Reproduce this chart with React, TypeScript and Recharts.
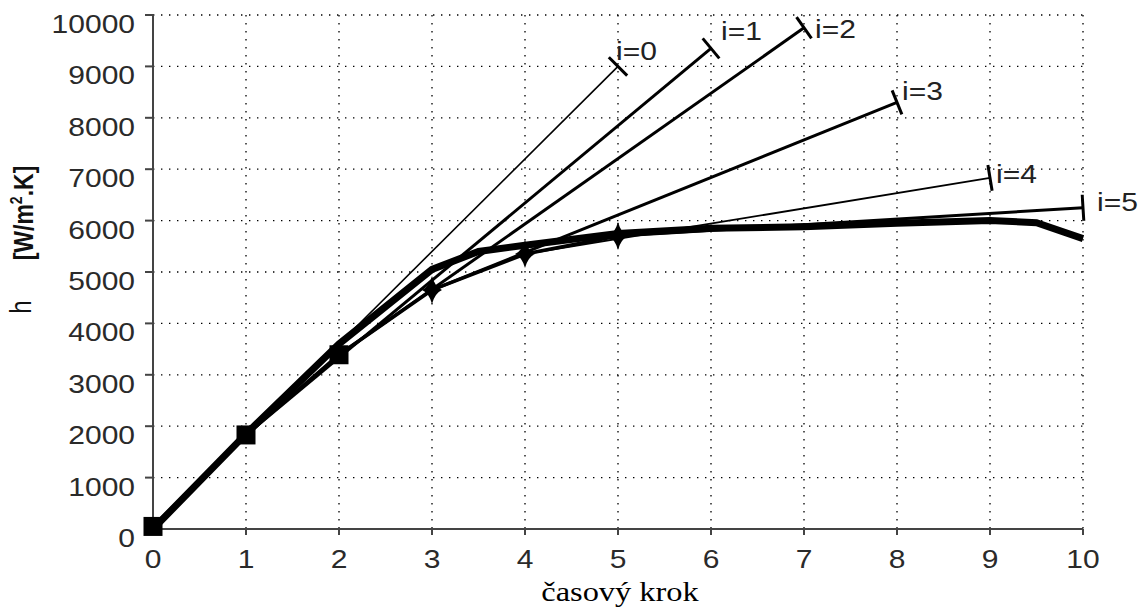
import React from "react";
import { LineChart, Line, XAxis, YAxis, CartesianGrid } from "recharts";

// time steps and h ticks
const steps = [0, 1, 2, 3, 4, 5, 6, 7, 8, 9, 10];
const hTicks = [0, 1000, 2000, 3000, 4000, 5000, 6000, 7000, 8000, 9000, 10000];

// h with markers, steps 0..5
const measuredH = [50, 1830, 3390, 4650, 5350, 5700];

// converged (bold) curve
const finalSteps = [0, 1, 2, 3, 3.5, 4, 5, 6, 7, 8, 9, 9.5, 10];
const finalH = [0, 1850, 3600, 5050, 5400, 5520, 5750, 5850, 5880, 5950, 6000, 5960, 5650];

// predictions i=0..5, each from step i to step i+5
const predNames = ["i=0", "i=1", "i=2", "i=3", "i=4", "i=5"];
const predStart = [0, 1830, 3390, 4650, 5350, 5700];
const predEnd = [9000, 9350, 9750, 8300, 6830, 6250];
const HORIZON = 5;

const W = 1138;
const H = 607;
const MARGIN = { top: 15, right: 55, left: 0, bottom: 0 };
const Y_AXIS_W = 153;
const X_AXIS_H = 78;
const PLOT_W = W - MARGIN.right - Y_AXIS_W;
const PLOT_H = H - MARGIN.top - X_AXIS_H;

const SANS = '"Liberation Sans", Arial, sans-serif';
const SERIF = '"Liberation Serif", "Times New Roman", serif';
const STRETCH = 1.2; // the source text is a bit wide
const AXIS = "#444";

const PRED_WIDTH = [1.6, 3, 3, 3, 1.8, 3];
const LABEL_DX = [-2, 10, 11, 5, 6, 14];
const LABEL_DY = [-6, -8, 10, -2, 5, 3];

const measuredData = measuredH.map((h, i) => ({ x: steps[i], h }));
const finalData = finalSteps.map((x, i) => ({ x, h: finalH[i] }));
const predData = predNames.map((_, i) => [
  { x: steps[i], h: predStart[i] },
  { x: steps[i] + HORIZON, h: predEnd[i] },
]);

const YTick = ({ x, y, payload }: any) => (
  <g transform={`translate(${x},${y + 18}) scale(${STRETCH},1)`}>
    <text textAnchor="end" fontFamily={SANS} fontSize={25} fill="#2a2a2a">
      {payload.value}
    </text>
  </g>
);

const XTick = ({ x, y, payload }: any) => (
  <g transform={`translate(${x},${y + 31}) scale(${STRETCH},1)`}>
    <text textAnchor="middle" fontFamily={SANS} fontSize={25} fill="#2a2a2a">
      {payload.value}
    </text>
  </g>
);

const YTitle = () => (
  <g>
    <g transform={`translate(33,213) scale(${STRETCH},1) rotate(-90)`}>
      <text textAnchor="middle" fontFamily={SANS} fontSize={23} fontWeight="bold" fill="#111">
        [W/m<tspan fontSize={14} dy={-9}>2</tspan>
        <tspan dy={9}>.K]</tspan>
      </text>
    </g>
    <g transform={`translate(31,307) scale(${STRETCH},1) rotate(-90)`}>
      <text textAnchor="middle" fontFamily={SANS} fontSize={24} fill="#111">
        h
      </text>
    </g>
  </g>
);

const XTitle = () => (
  <g transform={`translate(620,601) scale(${STRETCH},1)`}>
    <text textAnchor="middle" fontFamily={SERIF} fontSize={27} fill="#000">
      časový krok
    </text>
  </g>
);

const makeEndCap = (i: number) => (props: any) => {
  const { cx, cy, index } = props;
  if (index !== 1) return <g key={`p${i}-${index}`} />;
  // perpendicular to the line, in pixels
  const dx = (HORIZON / 10) * PLOT_W;
  const dy = -((predEnd[i] - predStart[i]) / 10000) * PLOT_H;
  const len = Math.hypot(dx, dy);
  const px = -dy / len;
  const py = dx / len;
  const half = 13;
  return (
    <g key={`p${i}-${index}`}>
      <line
        x1={cx - px * half}
        y1={cy - py * half}
        x2={cx + px * half}
        y2={cy + py * half}
        stroke="#000"
        strokeWidth={3}
      />
      <g transform={`translate(${cx + LABEL_DX[i]},${cy + LABEL_DY[i]}) scale(${STRETCH},1)`}>
        <text fontFamily={SANS} fontSize={25} fill="#222">
          {predNames[i]}
        </text>
      </g>
    </g>
  );
};

const Marker = (props: any) => {
  const { cx, cy, index } = props;
  if (index < 3) {
    return <rect key={`m${index}`} x={cx - 9.5} y={cy - 9.5} width={19} height={19} fill="#000" />;
  }
  return (
    <path
      key={`m${index}`}
      d={`M${cx},${cy - 14} Q${cx + 3},${cy - 3} ${cx + 10},${cy} Q${cx + 3},${cy + 3} ${cx},${cy + 14} Q${cx - 3},${cy + 3} ${cx - 10},${cy} Q${cx - 3},${cy - 3} ${cx},${cy - 14}Z`}
      fill="#000"
    />
  );
};

export default function App() {
  return (
    <div style={{ position: "absolute", left: 0, top: 0, background: "#fff" }}>
      <LineChart width={W} height={H} margin={MARGIN}>
        <CartesianGrid stroke="#000" strokeWidth={1.3} strokeDasharray="1.4 6.6" />
        <XAxis
          type="number"
          dataKey="x"
          domain={[0, 10]}
          ticks={steps}
          interval={0}
          height={X_AXIS_H}
          tickSize={6}
          tickMargin={2}
          axisLine={{ stroke: AXIS, strokeWidth: 2 }}
          tickLine={{ stroke: AXIS, strokeWidth: 2 }}
          tick={<XTick />}
          label={{ content: <XTitle /> }}
        />
        <YAxis
          type="number"
          domain={[0, 10000]}
          ticks={hTicks}
          interval={0}
          width={Y_AXIS_W}
          tickSize={8}
          tickMargin={10}
          axisLine={{ stroke: AXIS, strokeWidth: 2 }}
          tickLine={{ stroke: AXIS, strokeWidth: 2 }}
          tick={<YTick />}
          label={{ content: <YTitle /> }}
        />
        {predData.map((d, i) => (
          <Line
            key={predNames[i]}
            data={d}
            dataKey="h"
            type="linear"
            stroke="#000"
            strokeWidth={PRED_WIDTH[i]}
            dot={makeEndCap(i)}
            activeDot={false}
            isAnimationActive={false}
          />
        ))}
        <Line
          data={finalData}
          dataKey="h"
          type="linear"
          stroke="#000"
          strokeWidth={7}
          dot={false}
          activeDot={false}
          isAnimationActive={false}
        />
        <Line
          data={measuredData}
          dataKey="h"
          type="linear"
          stroke="#000"
          strokeWidth={3.5}
          dot={<Marker />}
          activeDot={false}
          isAnimationActive={false}
        />
      </LineChart>
    </div>
  );
}
